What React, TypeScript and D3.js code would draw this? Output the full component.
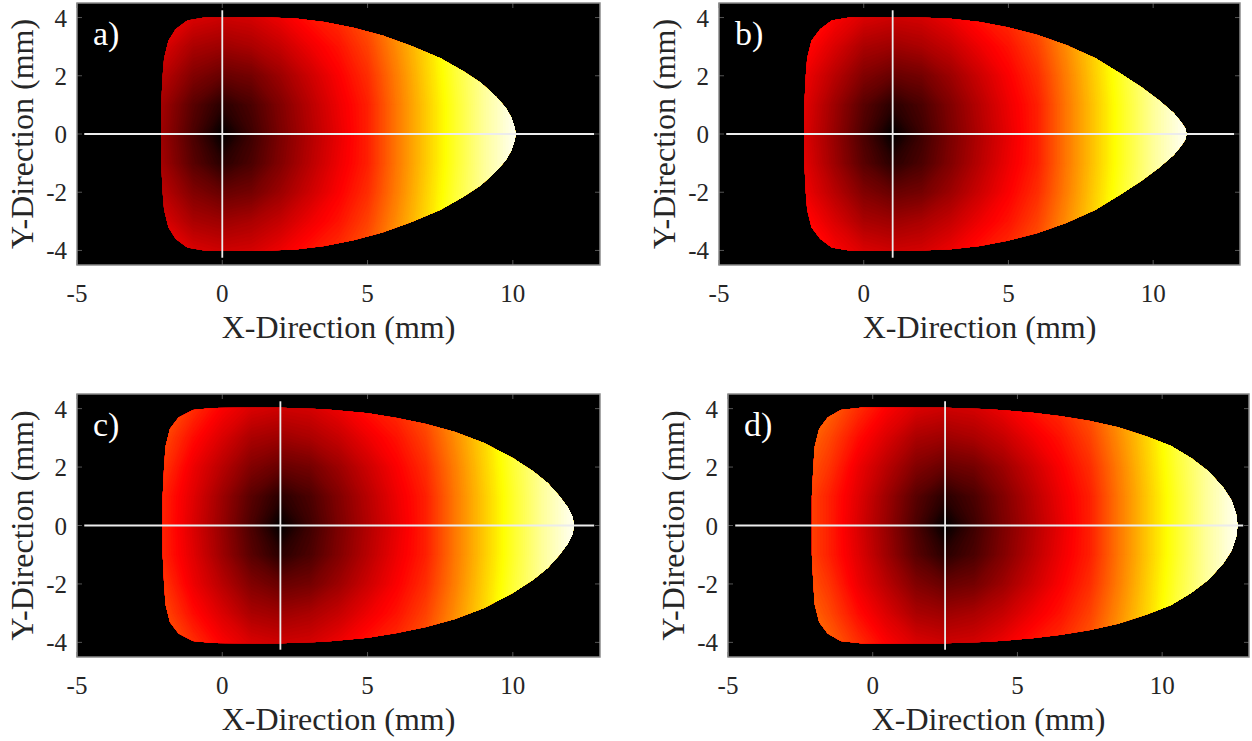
import React from 'react';
import * as d3 from 'd3';

// panel text + axis setup
const panelLabels = ['a)', 'b)', 'c)', 'd)'];
const sourceX = [0, 1, 2, 2.5]; // crosshair x (mm) per panel
const xTicks = [-5, 0, 5, 10];
const yTicks = [-4, -2, 0, 2, 4];
const xDomain = [-5, 13];
const yDomain = [-4.5, 4.5];
const crossX = [-4.75, 12.8];
const crossY = [-4.25, 4.25];

// field: columns = x offset from the crosshair (mm), rows = |y| (mm)
const fieldDx = [-5, -4, -3, -2, -1, 0, 1, 2, 3, 4, 5, 6, 7, 8, 9, 10, 11];
const fieldAbsY = [0, 1, 2, 3, 4, 5];
const fieldRows = [
  [0.50, 0.42, 0.32, 0.22, 0.11, 0.00, 0.09, 0.18, 0.26, 0.34, 0.42, 0.55, 0.67, 0.79, 0.90, 0.98, 1.0],
  [0.50, 0.42, 0.33, 0.23, 0.13, 0.06, 0.11, 0.19, 0.27, 0.35, 0.42, 0.55, 0.67, 0.79, 0.90, 0.98, 1.0],
  [0.52, 0.45, 0.35, 0.27, 0.19, 0.15, 0.17, 0.23, 0.30, 0.37, 0.44, 0.56, 0.68, 0.80, 0.90, 0.98, 1.0],
  [0.55, 0.48, 0.39, 0.32, 0.25, 0.23, 0.25, 0.29, 0.35, 0.40, 0.47, 0.58, 0.69, 0.81, 0.91, 0.98, 1.0],
  [0.58, 0.52, 0.44, 0.37, 0.32, 0.30, 0.31, 0.35, 0.40, 0.44, 0.50, 0.60, 0.71, 0.82, 0.92, 0.98, 1.0],
  [0.62, 0.56, 0.49, 0.43, 0.39, 0.37, 0.38, 0.41, 0.45, 0.49, 0.54, 0.63, 0.73, 0.83, 0.92, 0.98, 1.0],
];

// upper outline of each footprint (x, y in mm), mirrored below y = 0
const boundaryA = [[-2.1, 0], [-2.1, 1], [-2.05, 2], [-2.0, 2.6], [-1.85, 3.2], [-1.6, 3.6], [-1.2, 3.9], [-0.6, 4.0], [1, 4.02], [2.5, 3.97], [3.5, 3.85], [4.5, 3.65], [5.5, 3.38], [6.5, 3.02], [7.5, 2.6], [8.3, 2.15], [8.9, 1.75], [9.4, 1.3], [9.75, 0.9], [9.95, 0.55], [10.05, 0.25], [10.1, 0]];
const boundaryB = [[-2.05, 0], [-2.05, 1], [-2.0, 2], [-1.95, 2.6], [-1.8, 3.2], [-1.5, 3.6], [-1.1, 3.9], [-0.5, 4.0], [1.5, 4.02], [3, 3.96], [4, 3.85], [5, 3.66], [6, 3.4], [7, 3.05], [8, 2.6], [8.9, 2.05], [9.6, 1.6], [10.2, 1.15], [10.7, 0.72], [10.95, 0.42], [11.1, 0.2], [11.15, 0]];
const boundaryC = [[-2.05, 0], [-2.05, 1], [-2.0, 2], [-1.95, 2.7], [-1.8, 3.3], [-1.5, 3.7], [-1.0, 3.95], [-0.3, 4.02], [2, 4.03], [3.5, 3.98], [5, 3.84], [6, 3.68], [7, 3.47], [8, 3.2], [9, 2.82], [10, 2.3], [10.7, 1.85], [11.2, 1.45], [11.6, 1.0], [11.9, 0.6], [12.05, 0.3], [12.1, 0]];
const boundaryD = [[-2.1, 0], [-2.1, 1], [-2.05, 2], [-2.0, 2.7], [-1.85, 3.3], [-1.55, 3.7], [-1.1, 3.95], [-0.4, 4.03], [2.5, 4.03], [4, 3.98], [5.5, 3.86], [6.5, 3.74], [7.5, 3.58], [8.5, 3.35], [9.5, 3.03], [10.3, 2.72], [11, 2.3], [11.6, 1.85], [12.1, 1.3], [12.4, 0.85], [12.55, 0.4], [12.6, 0]];
const boundaries = [boundaryA, boundaryB, boundaryC, boundaryD];

const frames = [
  { l: 77, t: 3, r: 600, b: 265 },
  { l: 719, t: 3, r: 1240, b: 265 },
  { l: 77, t: 394, r: 600, b: 657 },
  { l: 728, t: 394, r: 1249, b: 657 },
];

const font = '"Liberation Serif", "Times New Roman", serif';
const clamp = (v: number) => Math.max(0, Math.min(1, v));
const hot = (v: number) =>
  d3.rgb(clamp(v / 0.375) * 255, clamp((v - 0.375) / 0.375) * 255, clamp((v - 0.75) / 0.25) * 255).formatHex();

// full grid, top row = +5 mm down to -5 mm
const rowYs = [...fieldAbsY.slice().reverse(), ...fieldAbsY.slice(1).map((d) => -d)];
const gridValues: number[] = [];
rowYs.forEach((y) => {
  const row = fieldRows[fieldAbsY.indexOf(Math.abs(y))];
  row.forEach((v) => gridValues.push(v));
});
const nx = fieldDx.length;
const ny = rowYs.length;
const thresholds = d3.range(0, 1, 1 / 128);
const contours = d3.contours().size([nx, ny]).thresholds(thresholds)(gridValues);

function Panel({ k }: { k: number }) {
  const f = frames[k];
  const x = d3.scaleLinear().domain(xDomain).range([f.l, f.r]);
  const y = d3.scaleLinear().domain(yDomain).range([f.b, f.t]);
  const cx = sourceX[k];
  const proj = d3.geoTransform({
    point(px: number, py: number) {
      const dx = fieldDx[0] + (px - 0.5);
      const yy = rowYs[0] - (py - 0.5);
      (this as any).stream.point(x(cx + dx), y(yy));
    },
  });
  const path = d3.geoPath(proj);
  const upper = boundaries[k];
  const outline = [...upper, ...upper.slice(1, -1).reverse().map(([a, b]) => [a, -b])];
  const shape = d3
    .line<number[]>()
    .x((d) => x(d[0]))
    .y((d) => y(d[1]))
    .curve(d3.curveLinearClosed)(outline);
  const tickLen = 5;
  return (
    <g>
      <defs>
        <clipPath id={`shape${k}`}>
          <path d={shape || ''} />
        </clipPath>
      </defs>
      <rect x={f.l} y={f.t} width={f.r - f.l} height={f.b - f.t} fill="#000" />
      <g clipPath={`url(#shape${k})`}>
        {contours.map((c, i) => (
          <path key={i} d={path(c as any) || ''} fill={hot(c.value + 1 / 256)} stroke={hot(c.value + 1 / 256)} strokeWidth={0.4} />
        ))}
      </g>
      {/* crosshair */}
      <line x1={x(crossX[0])} x2={x(crossX[1])} y1={y(0)} y2={y(0)} stroke="#ececec" strokeWidth={1.8} />
      <line x1={x(cx)} x2={x(cx)} y1={y(crossY[0])} y2={y(crossY[1])} stroke="#ececec" strokeWidth={1.8} />
      {/* ticks inside */}
      {xTicks.map((t) => (
        <g key={'xt' + t} stroke="#555" strokeWidth={1}>
          <line x1={x(t)} x2={x(t)} y1={f.b} y2={f.b - tickLen} />
          <line x1={x(t)} x2={x(t)} y1={f.t} y2={f.t + tickLen} />
        </g>
      ))}
      {yTicks.map((t) => (
        <g key={'yt' + t} stroke="#555" strokeWidth={1}>
          <line x1={f.l} x2={f.l + tickLen} y1={y(t)} y2={y(t)} />
          <line x1={f.r} x2={f.r - tickLen} y1={y(t)} y2={y(t)} />
        </g>
      ))}
      <rect x={f.l} y={f.t} width={f.r - f.l} height={f.b - f.t} fill="none" stroke="#8a8a8a" strokeWidth={1.5} />
      <g fontFamily={font} fill="#262626">
        {xTicks.map((t) => (
          <text key={'xl' + t} x={x(t)} y={f.b + 37} fontSize={25} textAnchor="middle">
            {String(t)}
          </text>
        ))}
        {yTicks.map((t) => (
          <text key={'yl' + t} x={f.l - 10} y={y(t) + 9} fontSize={25} textAnchor="end">
            {String(t)}
          </text>
        ))}
        <text x={(f.l + f.r) / 2} y={f.b + 73} fontSize={32} textAnchor="middle">
          X-Direction (mm)
        </text>
        <text transform={`translate(${f.l - 44},${(f.t + f.b) / 2}) rotate(-90)`} fontSize={32} textAnchor="middle">
          Y-Direction (mm)
        </text>
      </g>
      <text x={f.l + 16} y={f.t + 42} fontFamily={font} fontSize={34} fill="#fff">
        {panelLabels[k]}
      </text>
    </g>
  );
}

export default function App() {
  return (
    <svg
      width={1252}
      height={741}
      viewBox="0 0 1252 741"
      style={{ position: 'absolute', left: 0, top: 0, display: 'block', background: '#fff' }}
    >
      {frames.map((_, k) => (
        <Panel key={k} k={k} />
      ))}
    </svg>
  );
}
